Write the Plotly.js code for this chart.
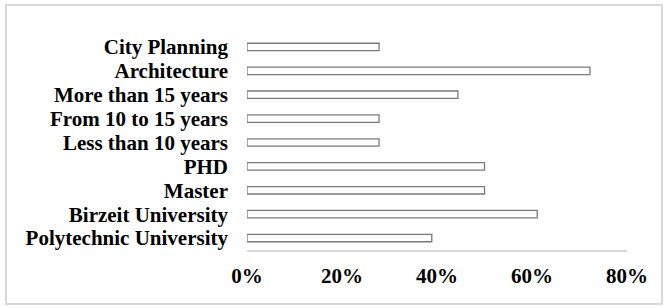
<!DOCTYPE html>
<html>
<head>
<meta charset="utf-8">
<script src="https://cdn.plot.ly/plotly-3.0.1.min.js"></script>
<style>
html,body{margin:0;padding:0;background:#fff;}
#chart{width:668px;height:307px;}
</style>
</head>
<body>
<div id="chart"></div>
<script>
const categories = [
  "Polytechnic University",
  "Birzeit University",
  "Master",
  "PHD",
  "Less than 10 years",
  "From 10 to 15 years",
  "More than 15 years",
  "Architecture",
  "City Planning"
];
const values = [0.389, 0.611, 0.5, 0.5, 0.278, 0.278, 0.444, 0.722, 0.278];
const xTicks = [0, 0.2, 0.4, 0.6, 0.8];
const xTickLabels = ["0%", "20%", "40%", "60%", "80%"];

const font = {family: "'Liberation Serif', 'Times New Roman', serif", size: 21, color: "#000"};

const trace = {
  type: "bar",
  orientation: "h",
  x: values,
  y: categories,
  marker: {color: "#ffffff", line: {color: "#7a7a7a", width: 1.3}},
  hoverinfo: "skip"
};

const layout = {
  width: 668,
  height: 307,
  margin: {l: 247, r: 41, t: 35, b: 57},
  paper_bgcolor: "#ffffff",
  plot_bgcolor: "#ffffff",
  showlegend: false,
  bargap: 0.69,
  font: font,
  xaxis: {
    range: [0, 0.8],
    tickmode: "array",
    tickvals: xTicks,
    ticktext: xTickLabels,
    showgrid: false,
    zeroline: false,
    showline: true,
    linecolor: "#d9d9d9",
    linewidth: 2,
    ticks: "",
    ticklabelstandoff: 6,
    tickfont: {family: font.family, size: 21, color: "#000", weight: "bold"}
  },
  yaxis: {
    type: "category",
    tickmode: "array",
    tickvals: categories,
    ticktext: categories,
    showgrid: false,
    zeroline: false,
    showline: false,
    ticks: "",
    ticklabelstandoff: 18,
    tickfont: {family: font.family, size: 21, color: "#000", weight: "bold"}
  },
  shapes: [{
    type: "rect", xref: "paper", yref: "paper",
    x0: (6 - 247) / 380, x1: (662 - 247) / 380,
    y0: (250 - 304) / 215, y1: (250 - 5) / 215,
    line: {color: "#d9d9d9", width: 2}, fillcolor: "rgba(0,0,0,0)", layer: "below"
  }]
};

Plotly.newPlot("chart", [trace], layout, {staticPlot: true, displayModeBar: false});
</script>
</body>
</html>
